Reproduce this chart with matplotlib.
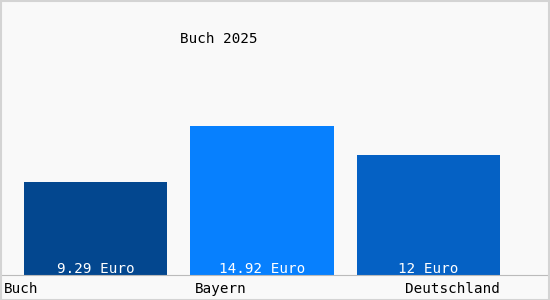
import matplotlib.pyplot as plt
from matplotlib.patches import Rectangle

categories = ['Buch', 'Bayern', 'Deutschland']
values = [9.29, 14.92, 12]
value_labels = ['9.29 Euro', '14.92 Euro', '12 Euro']
colors = ['#03478f', '#0780fe', '#0561c4']
title = 'Buch 2025'

W, H = 550, 300
fig = plt.figure(figsize=(W / 100, H / 100), dpi=100, facecolor='#f9f9f9')
plt.rcParams['font.family'] = 'DejaVu Sans Mono'
fs = 10.3

# axes: full width, baseline at y=275 px, 10 px per euro
ax = fig.add_axes([0, 25 / H, 1, 250 / H])
ax.set_facecolor('#f9f9f9')
x = range(len(categories))
ax.bar(x, values, width=0.86, color=colors)
ax.set_xlim(-95.5 / 166.5, (W - 95.5) / 166.5)
ax.set_ylim(0, 25)
for s in ['top', 'left', 'right']:
    ax.spines[s].set_visible(False)
ax.spines['bottom'].set_color('#bbbbbb')
ax.set_xticks([])
ax.set_yticks([])

for i, lab in enumerate(value_labels):
    ax.text(i, 0.2, lab, ha='center', va='baseline', color='white', fontsize=fs)

# category labels under the baseline
half = 0.43
ax.text(-95.5 / 166.5 + 4 / 166.5, -1.8, categories[0], ha='left', va='baseline', fontsize=fs)
ax.text(1 - half + 4 / 166.5, -1.8, categories[1], ha='left', va='baseline', fontsize=fs)
ax.text(2 + half, -1.8, categories[2], ha='right', va='baseline', fontsize=fs)

fig.text(180 / W, 1 - 43 / H, title, ha='left', va='baseline', fontsize=fs)

# light border around the figure
fig.patches.append(Rectangle((0.5 / W, 0.5 / H), 1 - 1.5 / W, 1 - 1.5 / H,
                             transform=fig.transFigure, fill=False,
                             edgecolor='#d4d4d4', linewidth=1.5))

fig.savefig('out.png', dpi=100, facecolor=fig.get_facecolor())
